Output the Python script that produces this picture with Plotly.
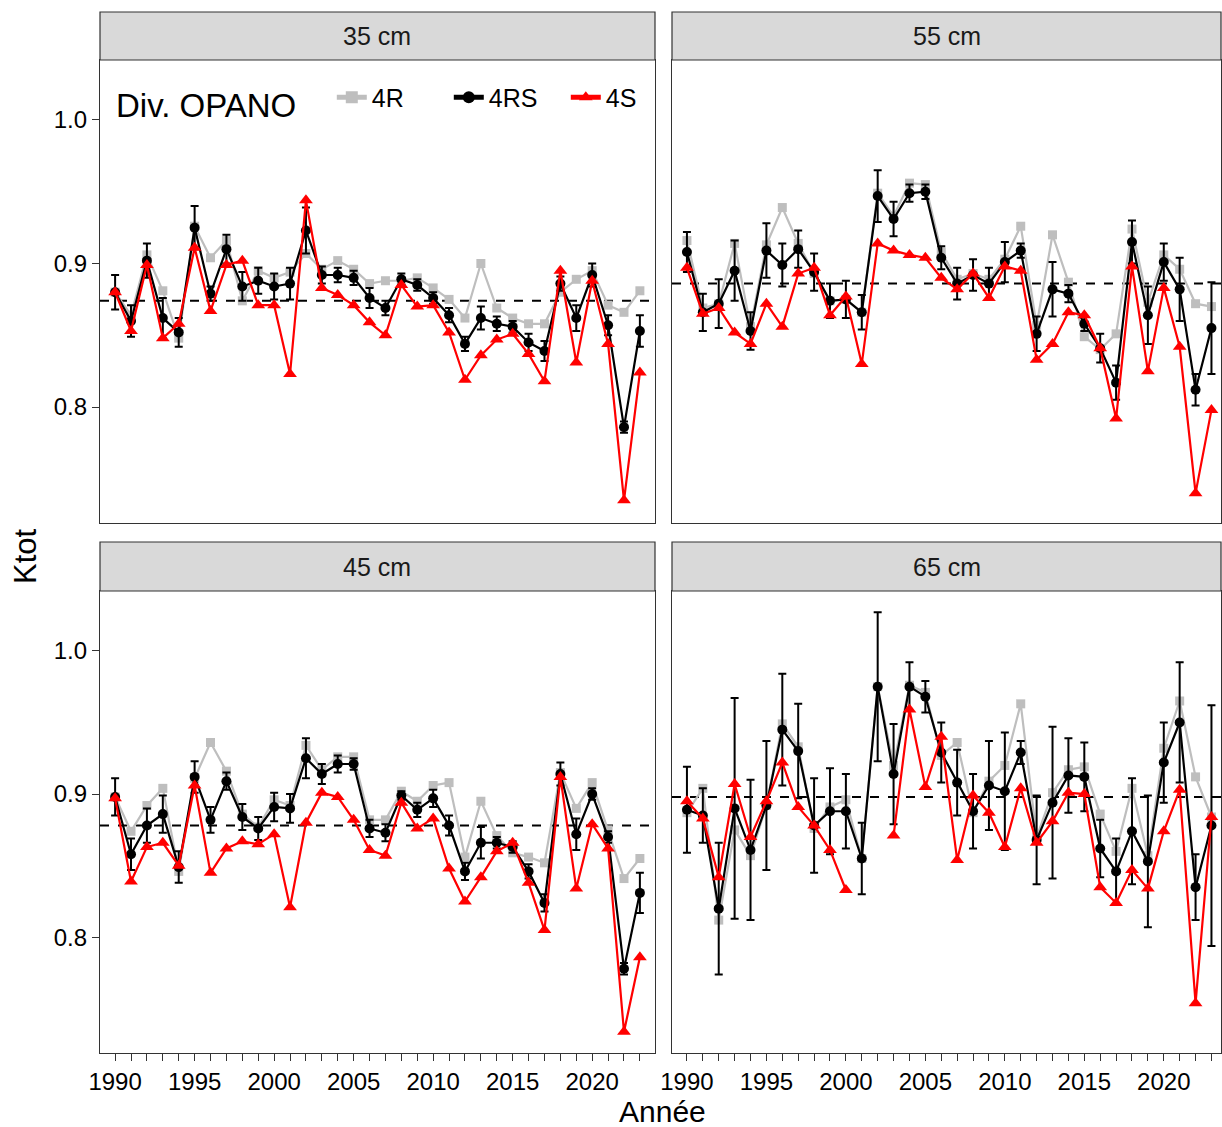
import plotly.graph_objects as go

years = list(range(1990, 2024))
nan = None

# ---- 35 cm ----
r35 = [0.880, 0.864, 0.906, 0.881, 0.848, 0.926, 0.904, 0.916, 0.874, 0.895, 0.890, 0.894, 0.907, 0.896, 0.902, 0.896,
       0.886, 0.888, 0.888, 0.890, 0.883, 0.875, 0.862, 0.900, 0.869, 0.862, 0.858, 0.858, 0.880, 0.889, 0.895, 0.871, 0.866, 0.881]
rs35 = [0.880, 0.860, 0.902, 0.862, 0.852, 0.925, 0.879, 0.910, 0.884, 0.888, 0.884, 0.886, 0.923, 0.892, 0.892, 0.890,
        0.876, 0.869, 0.889, 0.885, 0.876, 0.864, 0.844, 0.862, 0.858, 0.856, 0.845, 0.839, 0.886, 0.862, 0.892, 0.857, 0.786, 0.853]
s35 = [0.880, 0.853, 0.899, 0.848, 0.858, 0.911, 0.867, 0.899, 0.902, 0.871, 0.871, 0.823, 0.944, 0.883, 0.878, 0.871,
       0.859, 0.850, 0.885, 0.870, 0.871, 0.852, 0.819, 0.836, 0.847, 0.851, 0.837, 0.818, 0.895, 0.831, 0.888, 0.844, 0.735, 0.824]
e35 = [0.012, 0.011, 0.012, 0.014, 0.010, 0.015, 0.005, 0.010, 0.010, 0.009, 0.009, 0.011, 0.016, 0.006, 0.005, 0.005,
       0.007, 0.005, 0.004, 0.004, 0.004, 0.005, 0.005, 0.008, 0.005, 0.004, 0.006, 0.007, 0.005, 0.009, 0.008, 0.007, 0.004, 0.011]
ref35 = 0.874

# ---- 55 cm ----
r55 = [0.916, 0.869, 0.872, 0.914, 0.856, 0.913, 0.939, 0.914, 0.893, 0.874, 0.875, 0.866, 0.949, 0.933, 0.956, 0.955,
       0.908, 0.889, 0.893, 0.889, 0.903, 0.926, 0.857, 0.920, 0.887, 0.849, 0.840, 0.851, 0.924, 0.873, 0.906, 0.896, 0.872, 0.870]
rs55 = [0.908, 0.866, 0.872, 0.895, 0.853, 0.909, 0.899, 0.910, 0.894, 0.874, 0.875, 0.866, 0.947, 0.931, 0.949, 0.950,
        0.904, 0.886, 0.892, 0.886, 0.901, 0.909, 0.851, 0.882, 0.879, 0.858, 0.841, 0.817, 0.915, 0.864, 0.901, 0.882, 0.812, 0.855]
s55 = [0.897, 0.865, 0.869, 0.852, 0.844, 0.872, 0.856, 0.893, 0.897, 0.864, 0.877, 0.830, 0.914, 0.909, 0.906, 0.904,
       0.890, 0.882, 0.893, 0.876, 0.898, 0.895, 0.833, 0.844, 0.866, 0.864, 0.841, 0.792, 0.898, 0.825, 0.883, 0.842, 0.740, 0.798]
e55 = [0.014, 0.013, 0.017, 0.021, 0.013, 0.019, 0.015, 0.013, 0.013, 0.012, 0.013, 0.012, 0.018, 0.012, 0.006, 0.005,
       0.008, 0.011, 0.011, 0.011, 0.014, 0.005, 0.012, 0.019, 0.006, 0.005, 0.010, 0.012, 0.015, 0.020, 0.013, 0.022, 0.011, 0.032]
ref55 = 0.886

# ---- 45 cm ----
r45 = [0.898, 0.874, 0.892, 0.904, 0.846, 0.911, 0.936, 0.916, 0.886, 0.877, 0.896, 0.892, 0.934, 0.917, 0.926, 0.926,
       0.882, 0.882, 0.902, 0.895, 0.906, 0.908, 0.856, 0.895, 0.871, 0.859, 0.856, 0.852, 0.915, 0.890, 0.908, 0.875, 0.841, 0.855]
rs45 = [0.898, 0.858, 0.878, 0.886, 0.849, 0.912, 0.882, 0.909, 0.884, 0.876, 0.891, 0.890, 0.925, 0.914, 0.921, 0.921,
        0.876, 0.873, 0.899, 0.889, 0.897, 0.878, 0.846, 0.866, 0.866, 0.863, 0.846, 0.824, 0.914, 0.872, 0.900, 0.870, 0.778, 0.831]
s45 = [0.897, 0.839, 0.863, 0.866, 0.850, 0.906, 0.845, 0.862, 0.867, 0.865, 0.872, 0.821, 0.880, 0.901, 0.898, 0.882,
       0.861, 0.857, 0.894, 0.876, 0.883, 0.848, 0.825, 0.842, 0.860, 0.866, 0.838, 0.805, 0.912, 0.834, 0.879, 0.862, 0.734, 0.786]
e45 = [0.013, 0.011, 0.012, 0.013, 0.011, 0.011, 0.009, 0.006, 0.009, 0.008, 0.010, 0.010, 0.014, 0.007, 0.006, 0.004,
       0.006, 0.006, 0.003, 0.005, 0.006, 0.007, 0.006, 0.011, 0.004, 0.004, 0.005, 0.006, 0.008, 0.011, 0.004, 0.004, 0.004, 0.014]
ref45 = 0.878

# ---- 65 cm ----
r65 = [0.887, 0.904, 0.812, 0.875, 0.857, 0.892, 0.949, 0.933, 0.876, 0.891, 0.896, 0.855, 0.975, 0.920, 0.976, 0.971,
       0.927, 0.936, 0.887, 0.909, 0.920, 0.963, 0.870, 0.901, 0.917, 0.919, 0.886, 0.860, 0.904, 0.857, 0.932, 0.965, 0.912, 0.884]
rs65 = [0.889, 0.885, 0.820, 0.890, 0.861, 0.892, 0.945, 0.930, 0.878, 0.888, 0.888, 0.855, 0.975, 0.914, 0.975, 0.968,
        0.929, 0.908, 0.888, 0.906, 0.902, 0.929, 0.868, 0.894, 0.913, 0.912, 0.862, 0.846, 0.874, 0.853, 0.922, 0.950, 0.835, 0.878]
s65 = [0.895, 0.883, 0.842, 0.907, 0.870, 0.895, 0.922, 0.891, 0.878, 0.861, 0.833, nan, nan, 0.871, 0.959, 0.905,
       0.940, 0.854, 0.899, 0.887, 0.863, 0.904, 0.866, 0.881, 0.901, 0.900, 0.835, 0.824, 0.847, 0.834, 0.874, 0.903, 0.754, 0.884]
e65 = [0.030, 0.019, 0.046, 0.077, 0.049, 0.045, 0.039, 0.033, 0.033, 0.030, 0.026, 0.025, 0.052, 0.035, 0.017, 0.011,
       0.021, 0.023, 0.026, 0.031, 0.041, 0.008, 0.031, 0.053, 0.026, 0.024, 0.020, 0.023, 0.037, 0.046, 0.028, 0.042, 0.023, 0.084]
ref65 = 0.898

panels = [
    ("35 cm", r35, rs35, s35, e35, ref35),
    ("55 cm", r55, rs55, s55, e55, ref55),
    ("45 cm", r45, rs45, s45, e45, ref45),
    ("65 cm", r65, rs65, s65, e65, ref65),
]

W, H = 1222, 1127
def px(x): return x / W
def py(y): return 1 - y / H

xdom = [[px(100), px(655)], [px(672), px(1221)]]
ydom = [[py(523), py(60)], [py(1053), py(591)]]
xranges = [[1989.05, 2023.95], [1989.06, 2023.6]]
strip_y = [[py(60), py(12)], [py(591), py(542)]]
yrange = [0.7192, 1.0418]

GRAY = "#BEBEBE"
RED = "#FF0000"
BORDER = "#333333"

fig = go.Figure()
layout = dict(width=W, height=H, margin=dict(l=0, r=0, t=0, b=0),
              paper_bgcolor="white", plot_bgcolor="white",
              font=dict(family="Liberation Sans, Arial, sans-serif", color="black"),
              showlegend=True)
shapes = []
annotations = []

for i, (name, r, rs, s, e, ref) in enumerate(panels):
    row, col = divmod(i, 2)
    n = i + 1
    xa = "x" if n == 1 else f"x{n}"
    ya = "y" if n == 1 else f"y{n}"
    xkey = "xaxis" if n == 1 else f"xaxis{n}"
    ykey = "yaxis" if n == 1 else f"yaxis{n}"
    bottom = row == 1
    left = col == 0
    layout[xkey] = dict(domain=xdom[col], range=xranges[col], anchor=ya, showgrid=False, zeroline=False,
                        showline=True, mirror=True, linecolor=BORDER, linewidth=1.2,
                        tick0=1990, dtick=5, ticks="outside" if bottom else "", ticklen=7, tickwidth=1.2,
                        tickcolor=BORDER, showticklabels=bottom,
                        tickfont=dict(size=24, color="black"), automargin=False,
                        minor=dict(dtick=1, tick0=1990, ticks="outside" if bottom else "", ticklen=7,
                                   tickwidth=1.2, tickcolor=BORDER, showgrid=False))
    layout[ykey] = dict(domain=ydom[row], range=yrange, anchor=xa, showgrid=False, zeroline=False,
                        showline=True, mirror=True, linecolor=BORDER, linewidth=1.2,
                        tickvals=[0.8, 0.9, 1.0], tickformat=".1f",
                        ticks="outside" if left else "", ticklen=7, tickwidth=1.2, tickcolor=BORDER,
                        showticklabels=left, tickfont=dict(size=24, color="black"), automargin=False)
    show = (i == 0)
    fig.add_trace(go.Scatter(x=years, y=r, mode="lines+markers", name="4R", legendgroup="4R", showlegend=show,
                             line=dict(color=GRAY, width=2.2), marker=dict(symbol="square", size=9, color=GRAY),
                             xaxis=xa, yaxis=ya))
    fig.add_trace(go.Scatter(x=years, y=rs, mode="lines+markers", name="4RS", legendgroup="4RS", showlegend=show,
                             line=dict(color="black", width=2.2), marker=dict(symbol="circle", size=10, color="black"),
                             error_y=dict(type="data", array=e, visible=True, color="black", thickness=2, width=4),
                             xaxis=xa, yaxis=ya))
    fig.add_trace(go.Scatter(x=years, y=s, mode="lines+markers", name="4S", legendgroup="4S", showlegend=show,
                             line=dict(color=RED, width=2.2), marker=dict(symbol="triangle-up", size=12, color=RED),
                             connectgaps=False, xaxis=xa, yaxis=ya))
    shapes.append(dict(type="line", xref=f"{xa} domain", x0=0, x1=1, yref=ya, y0=ref, y1=ref,
                       line=dict(color="black", width=2, dash="dash"), layer="below"))
    # strip
    shapes.append(dict(type="rect", xref="paper", yref="paper", x0=xdom[col][0], x1=xdom[col][1],
                       y0=strip_y[row][0], y1=strip_y[row][1], fillcolor="#D9D9D9",
                       line=dict(color=BORDER, width=1.2)))
    annotations.append(dict(text=name, xref="paper", yref="paper", x=(xdom[col][0] + xdom[col][1]) / 2,
                            y=(strip_y[row][0] + strip_y[row][1]) / 2, showarrow=False,
                            font=dict(size=25, color="#1A1A1A"), xanchor="center", yanchor="middle"))

annotations.append(dict(text="Ktot", xref="paper", yref="paper", x=px(25), y=py(556), textangle=-90,
                        showarrow=False, font=dict(size=31, color="black"), xanchor="center", yanchor="middle"))
annotations.append(dict(text="Année", xref="paper", yref="paper", x=px(662), y=py(1111),
                        showarrow=False, font=dict(size=30, color="black"), xanchor="center", yanchor="middle"))

layout["shapes"] = shapes
layout["annotations"] = annotations
layout["legend"] = dict(orientation="h", x=px(114), y=py(101), xanchor="left", yanchor="middle",
                        bgcolor="rgba(0,0,0,0)", font=dict(size=25, color="black"),
                        title=dict(text="Div. OPANO\u00a0\u00a0\u00a0", font=dict(size=33, color="black"), side="left"),
                        entrywidthmode="pixels", entrywidth=72,
                        itemsizing="constant", tracegroupgap=0)
fig.update_layout(**layout)
fig.write_html("out.html", config={"displayModeBar": False},
               post_script="document.body.style.margin='0';document.body.style.overflow='hidden';")
